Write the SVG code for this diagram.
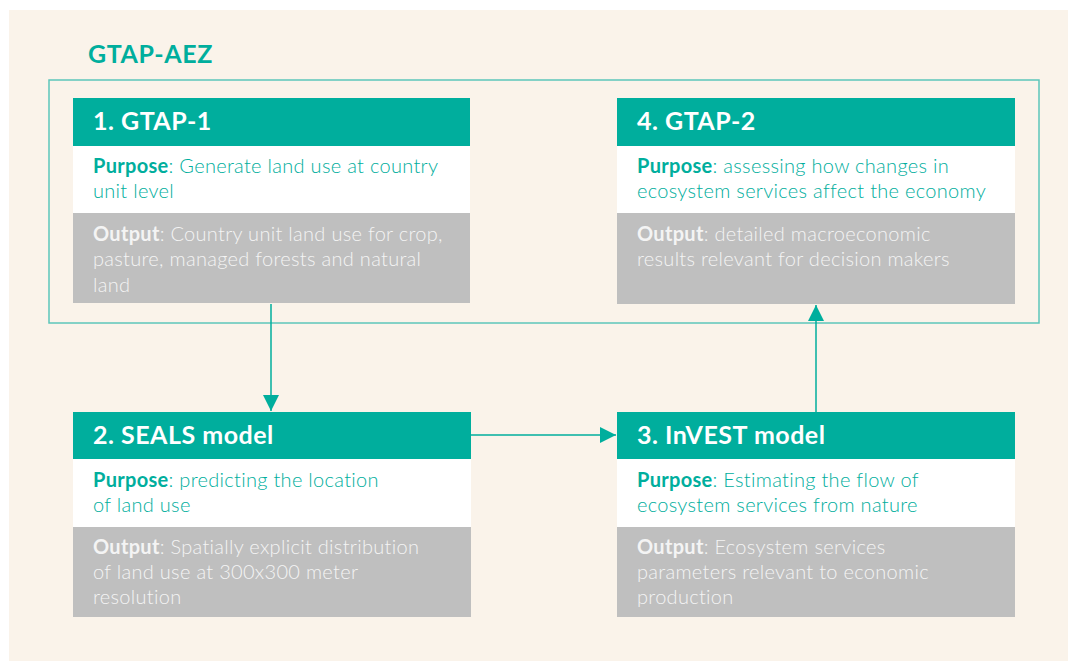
<svg xmlns="http://www.w3.org/2000/svg" width="1068" height="661" viewBox="0 0 1068 661">
<defs>
<style>
.hdr{fill:#00AE9D}
.pur{fill:#FFFFFF}
.out{fill:#BFBFBF}
.ht{font-family:Lato,"Open Sans",sans-serif;font-weight:bold;font-size:25px;letter-spacing:0.5px;fill:#FFFFFF}
.pt{font-family:Lato,"Open Sans",sans-serif;font-weight:300;font-size:20px;letter-spacing:0.3px;fill:#00AE9D}
.ot{font-family:Lato,"Open Sans",sans-serif;font-weight:300;font-size:20px;letter-spacing:0.3px;fill:#F4F4F4}
.b{font-weight:bold}
.conn{stroke:#00AE9D;stroke-width:1.5;fill:none}
</style>
<marker id="ah" viewBox="0 0 10 10" refX="10" refY="5" markerWidth="16" markerHeight="16" markerUnits="userSpaceOnUse" orient="auto">
<path d="M0,0 L10,5 L0,10 Z" fill="#00AE9D"/>
</marker>
</defs>
<rect x="0" y="0" width="1068" height="661" fill="#FFFFFF"/>
<rect x="9" y="10" width="1059" height="651" fill="#FAF3EA"/>
<g id="container">
<text x="88" y="63" font-family="Lato,'Open Sans',sans-serif" font-weight="bold" font-size="25" letter-spacing="0.6" fill="#00AE9D">GTAP-AEZ</text>
<rect x="49" y="80" width="990" height="243" fill="none" stroke="#5CC6BA" stroke-width="1.5"/>
</g>
<g id="connectors">
<line class="conn" x1="271" y1="304" x2="271" y2="411" marker-end="url(#ah)"/>
<line class="conn" x1="471" y1="435" x2="616" y2="435" marker-end="url(#ah)"/>
<line class="conn" x1="816" y1="412" x2="816" y2="305" marker-end="url(#ah)"/>
</g>
<g id="node1">
<rect class="hdr" x="73" y="98" width="397" height="48"/>
<rect class="pur" x="73" y="146" width="397" height="67"/>
<rect class="out" x="73" y="213" width="397" height="90"/>
<text class="ht" x="93" y="130">1. GTAP-1</text>
<text class="pt" x="93" y="173"><tspan class="b">Purpose</tspan>: Generate land use at country</text>
<text class="pt" x="93" y="198">unit level</text>
<text class="ot" x="93" y="241"><tspan class="b">Output</tspan>: Country unit land use for crop,</text>
<text class="ot" x="93" y="266">pasture, managed forests and natural</text>
<text class="ot" x="93" y="292">land</text>
</g>
<g id="node4">
<rect class="hdr" x="617" y="98" width="398" height="48"/>
<rect class="pur" x="617" y="146" width="398" height="67"/>
<rect class="out" x="617" y="213" width="398" height="91"/>
<text class="ht" x="637" y="130">4. GTAP-2</text>
<text class="pt" x="637" y="173"><tspan class="b">Purpose</tspan>: assessing how changes in</text>
<text class="pt" x="637" y="198">ecosystem services affect the economy</text>
<text class="ot" x="637" y="241"><tspan class="b">Output</tspan>: detailed macroeconomic</text>
<text class="ot" x="637" y="266">results relevant for decision makers</text>
</g>
<g id="node2">
<rect class="hdr" x="73" y="412" width="398" height="47"/>
<rect class="pur" x="73" y="459" width="398" height="68"/>
<rect class="out" x="73" y="527" width="398" height="90"/>
<text class="ht" x="93" y="444">2. SEALS model</text>
<text class="pt" x="93" y="487"><tspan class="b">Purpose</tspan>: predicting the location</text>
<text class="pt" x="93" y="512">of land use</text>
<text class="ot" x="93" y="554"><tspan class="b">Output</tspan>: Spatially explicit distribution</text>
<text class="ot" x="93" y="579">of land use at 300x300 meter</text>
<text class="ot" x="93" y="604">resolution</text>
</g>
<g id="node3">
<rect class="hdr" x="617" y="412" width="398" height="47"/>
<rect class="pur" x="617" y="459" width="398" height="68"/>
<rect class="out" x="617" y="527" width="398" height="90"/>
<text class="ht" x="637" y="444">3. InVEST model</text>
<text class="pt" x="637" y="487"><tspan class="b">Purpose</tspan>: Estimating the flow of</text>
<text class="pt" x="637" y="512">ecosystem services from nature</text>
<text class="ot" x="637" y="554"><tspan class="b">Output</tspan>: Ecosystem services</text>
<text class="ot" x="637" y="579">parameters relevant to economic</text>
<text class="ot" x="637" y="604">production</text>
</g>
</svg>
